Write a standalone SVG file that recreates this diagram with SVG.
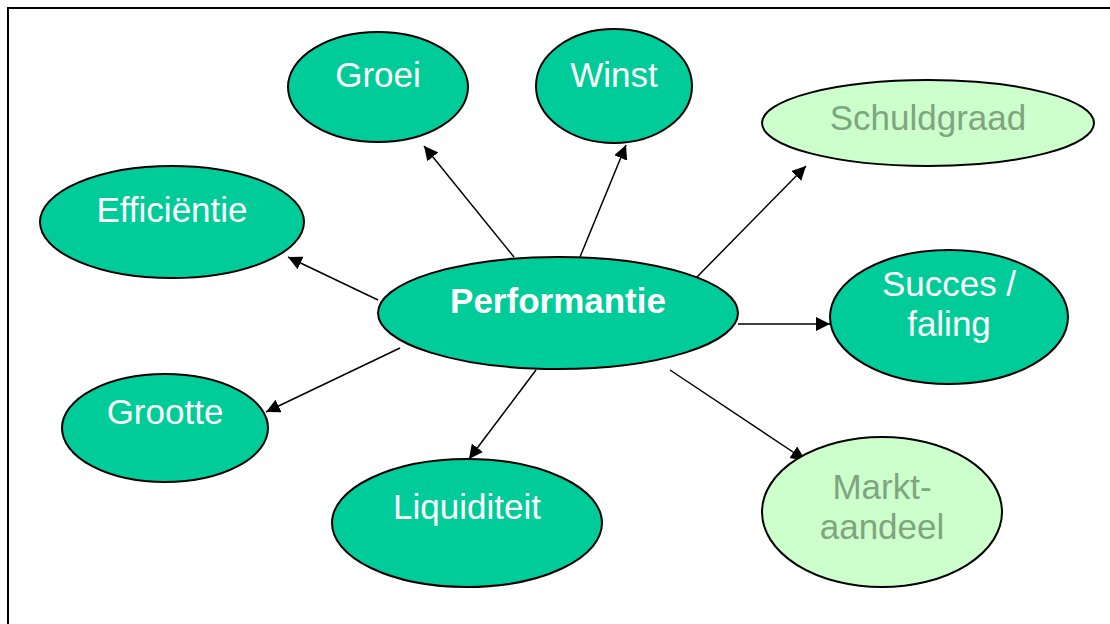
<svg xmlns="http://www.w3.org/2000/svg" width="1110" height="624" viewBox="0 0 1110 624">
<style>
.n{fill:#00CC99;stroke:#000;stroke-width:2}
.l{fill:#CCFFCC;stroke:#000;stroke-width:2}
text{font-family:"Liberation Sans",Arial,sans-serif;font-size:35px;text-anchor:middle}
.w{fill:#fff}
.g{fill:#7FA57F}
.b{font-weight:bold}
.c line{stroke:#000;stroke-width:1.5;marker-end:url(#ah)}
</style>
<defs>
<marker id="ah" viewBox="0 0 10 10" refX="10" refY="5" markerWidth="14" markerHeight="14" markerUnits="userSpaceOnUse" orient="auto">
<path d="M0,0 L10,5 L0,10 z" fill="#000"/>
</marker>
</defs>
<rect width="1110" height="624" fill="#fff"/>
<path d="M8,624 V8 H1110" fill="none" stroke="#000" stroke-width="2"/>
<g class="c">
<line x1="514" y1="257" x2="424" y2="146"/>
<line x1="580" y1="257" x2="626" y2="145"/>
<line x1="695" y1="279" x2="806" y2="166"/>
<line x1="378" y1="300" x2="288" y2="257"/>
<line x1="738" y1="324" x2="830" y2="324"/>
<line x1="400" y1="348" x2="266" y2="412"/>
<line x1="536" y1="370" x2="469" y2="459"/>
<line x1="670" y1="370" x2="805" y2="460"/>
</g>
<g id="groei"><ellipse class="n" cx="378" cy="87" rx="90" ry="55"/><text class="w" x="378" y="87">Groei</text></g>
<g id="winst"><ellipse class="n" cx="614" cy="86" rx="78" ry="57"/><text class="w" x="614" y="87">Winst</text></g>
<g id="schuldgraad"><ellipse class="l" cx="928" cy="123" rx="166" ry="43"/><text class="g" x="928" y="130">Schuldgraad</text></g>
<g id="efficientie"><ellipse class="n" cx="172" cy="222" rx="132" ry="56"/><text class="w" x="172" y="222">Efficiëntie</text></g>
<g id="performantie"><ellipse class="n" cx="558" cy="313" rx="180" ry="56"/><text class="w b" x="558" y="313">Performantie</text></g>
<g id="succes"><ellipse class="n" cx="949" cy="317" rx="119" ry="67"/><text class="w" x="949" y="296">Succes /</text><text class="w" x="949" y="336">faling</text></g>
<g id="grootte"><ellipse class="n" cx="165" cy="428" rx="103" ry="54"/><text class="w" x="165" y="424">Grootte</text></g>
<g id="liquiditeit"><ellipse class="n" cx="467" cy="523" rx="135" ry="64"/><text class="w" x="467" y="519">Liquiditeit</text></g>
<g id="marktaandeel"><ellipse class="l" cx="882" cy="512" rx="120" ry="75"/><text class="g" x="882" y="499">Markt-</text><text class="g" x="882" y="539">aandeel</text></g>
</svg>
